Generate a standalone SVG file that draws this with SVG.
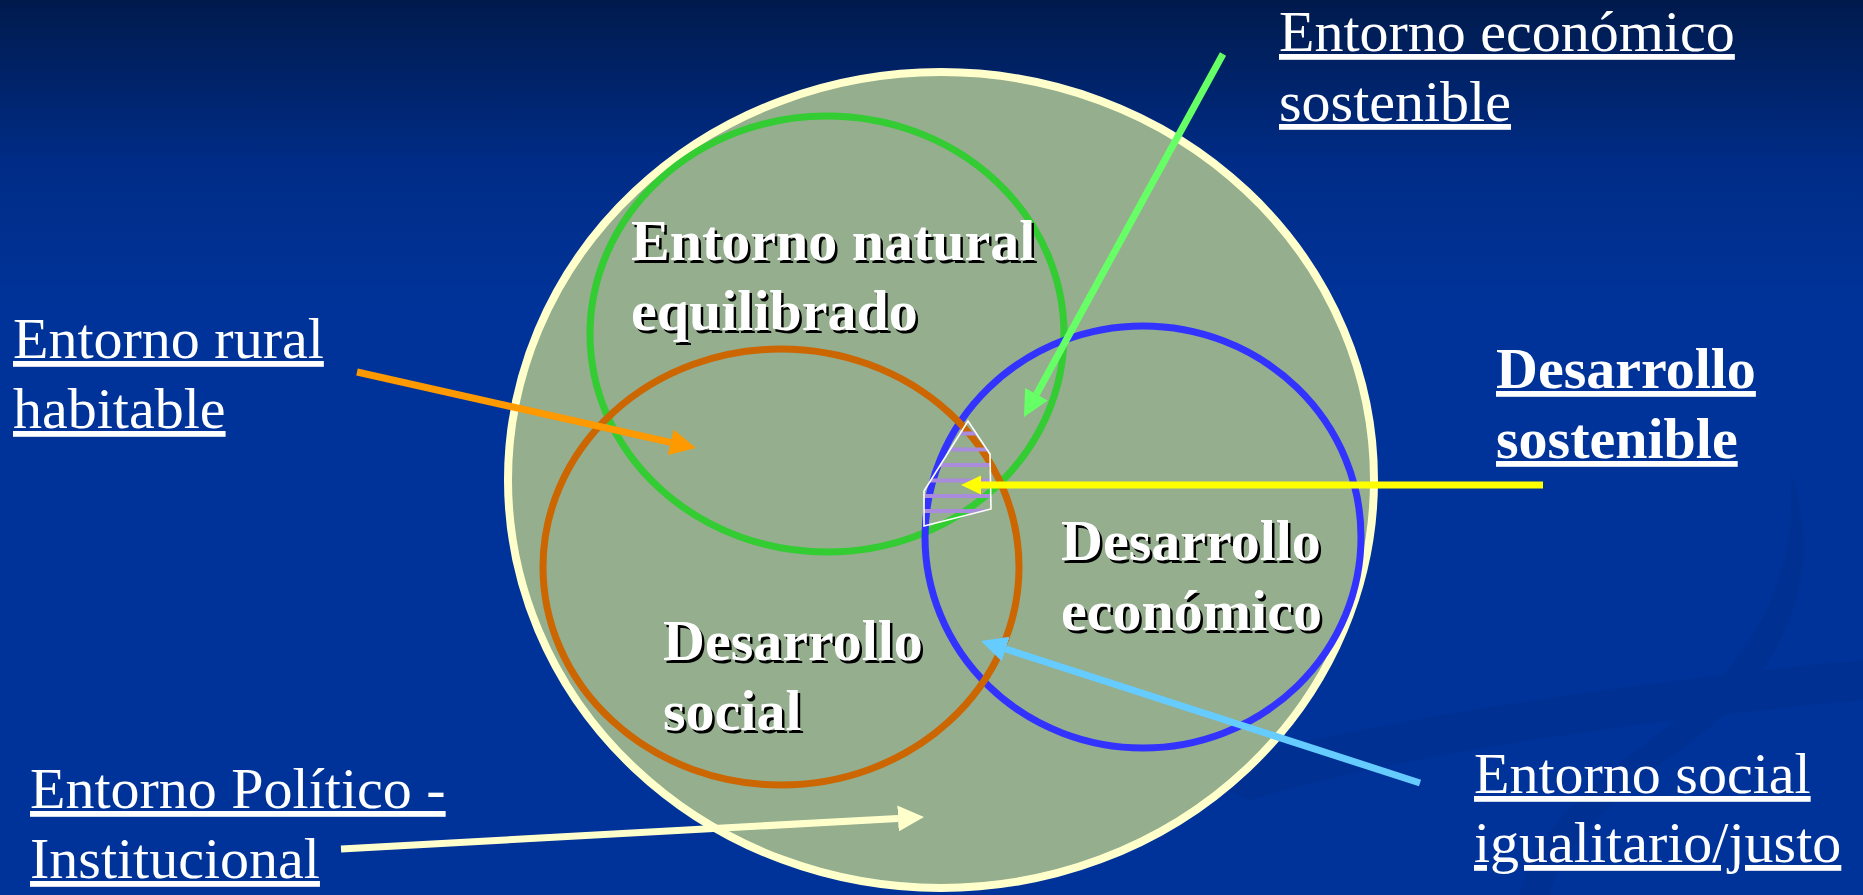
<svg xmlns="http://www.w3.org/2000/svg" width="1863" height="895" viewBox="0 0 1863 895">
<style>
.lbl{font-family:"Liberation Serif","Times New Roman",serif;font-size:58px;fill:#ffffff;text-decoration:underline;}
.b{font-weight:bold;}
.in{font-family:"Liberation Serif","Times New Roman",serif;font-size:58px;font-weight:bold;}
.sh{fill:#000000;}
.fg{fill:#ffffff;}
.ring{fill:none;stroke-width:7;}
.arr{fill:none;stroke-width:7;}
</style>
<defs>
<linearGradient id="bg" x1="0" y1="0" x2="0" y2="1">
<stop offset="0" stop-color="#001a4c"/>
<stop offset="0.18" stop-color="#002c86"/>
<stop offset="0.34" stop-color="#003399"/>
<stop offset="1" stop-color="#003399"/>
</linearGradient>
<clipPath id="lens"><polygon points="968,421 990,454 991,509 924,526 924,491"/></clipPath>
<marker id="hGreen" markerUnits="userSpaceOnUse" markerWidth="27" markerHeight="27" refX="0" refY="13" orient="auto" viewBox="0 0 27 26"><path d="M0,0 L26,13 L0,26 z" fill="#66ff66"/></marker>
<marker id="hOrange" markerUnits="userSpaceOnUse" markerWidth="27" markerHeight="27" refX="0" refY="13" orient="auto" viewBox="0 0 27 26"><path d="M0,0 L26,13 L0,26 z" fill="#ff9900"/></marker>
<marker id="hCyan" markerUnits="userSpaceOnUse" markerWidth="27" markerHeight="27" refX="0" refY="13" orient="auto" viewBox="0 0 27 26"><path d="M0,0 L26,13 L0,26 z" fill="#66ccff"/></marker>
<marker id="hCream" markerUnits="userSpaceOnUse" markerWidth="27" markerHeight="27" refX="0" refY="13" orient="auto" viewBox="0 0 27 26"><path d="M0,0 L26,13 L0,26 z" fill="#ffffcc"/></marker>
<marker id="hYellow" markerUnits="userSpaceOnUse" markerWidth="21" markerHeight="20" refX="0" refY="9.5" orient="auto" viewBox="0 0 21 19"><path d="M0,0 L20,9.5 L0,19 z" fill="#ffff00"/></marker>
</defs>

<rect x="0" y="0" width="1863" height="895" fill="url(#bg)"/>
<g id="swooshes" opacity="0.25">
<path d="M1180,770 C1400,715 1650,680 1863,660 L1863,700 C1650,720 1420,750 1250,800 Z" fill="#00297c"/>
<path d="M1790,470 C1830,580 1780,680 1680,750 C1610,800 1560,850 1550,895 L1520,895 C1530,840 1580,790 1650,740 C1750,670 1800,580 1790,470 Z" fill="#00297c"/>
</g>

<g id="outer">
<ellipse cx="941" cy="480" rx="433" ry="408" fill="#94ae8e" stroke="#ffffcc" stroke-width="8"/>
</g>
<g id="natural">
<ellipse class="ring" cx="827" cy="334" rx="237" ry="218" stroke="#33cc33"/>
</g>
<g id="economico">
<ellipse class="ring" cx="1143" cy="537" rx="218" ry="211" stroke="#3333ff"/>
</g>
<g id="social">
<ellipse class="ring" cx="781" cy="567" rx="238" ry="218" stroke="#cc6600"/>
</g>
<g id="sostenible-zone">
<g clip-path="url(#lens)" stroke="#aa8cdc" stroke-width="4">
<line x1="900" y1="433.5" x2="1000" y2="433.5"/>
<line x1="900" y1="449.5" x2="1000" y2="449.5"/>
<line x1="900" y1="465" x2="1000" y2="465"/>
<line x1="900" y1="480.5" x2="1000" y2="480.5"/>
<line x1="900" y1="496" x2="1000" y2="496"/>
<line x1="900" y1="511" x2="1000" y2="511"/>
</g>
<polygon points="968,421 990,454 991,509 924,526 924,491" fill="none" stroke="#ffffff" stroke-width="1.6"/>
</g>

<g id="inner-labels">
<g id="lbl-natural">
<text class="in sh" x="633.5" y="262.5">Entorno natural</text>
<text class="in fg" x="631" y="260">Entorno natural</text>
<text class="in sh" x="633.5" y="332.5">equilibrado</text>
<text class="in fg" x="631" y="330">equilibrado</text>
</g>
<g id="lbl-social">
<text class="in sh" x="665.5" y="662.5">Desarrollo</text>
<text class="in fg" x="663" y="660">Desarrollo</text>
<text class="in sh" x="665.5" y="732.5">social</text>
<text class="in fg" x="663" y="730">social</text>
</g>
<g id="lbl-economico">
<text class="in sh" x="1063.5" y="562.5">Desarrollo</text>
<text class="in fg" x="1061" y="560">Desarrollo</text>
<text class="in sh" x="1063.5" y="632.5">económico</text>
<text class="in fg" x="1061" y="630">económico</text>
</g>
</g>

<g id="connectors">
<line class="arr" x1="1223" y1="54" x2="1036.5" y2="394.2" stroke="#66ff66" marker-end="url(#hGreen)"/>
<line class="arr" x1="357" y1="372" x2="670.6" y2="442.3" stroke="#ff9900" marker-end="url(#hOrange)"/>
<line class="arr" x1="1543" y1="485" x2="981" y2="485" stroke="#ffff00" stroke-width="6" marker-end="url(#hYellow)"/>
<line class="arr" x1="1420" y1="783" x2="1005.7" y2="649" stroke="#66ccff" marker-end="url(#hCyan)"/>
<line class="arr" x1="341" y1="849" x2="898" y2="818.4" stroke="#ffffcc" marker-end="url(#hCream)"/>
</g>

<g id="lbl-eco-sost">
<text class="lbl" x="1279" y="51">Entorno económico</text>
<text class="lbl" x="1279" y="121">sostenible</text>
</g>
<g id="lbl-rural">
<text class="lbl" x="13" y="358">Entorno rural</text>
<text class="lbl" x="13" y="428">habitable</text>
</g>
<g id="lbl-dessost">
<text class="lbl b" x="1496" y="388">Desarrollo</text>
<text class="lbl b" x="1496" y="458">sostenible</text>
</g>
<g id="lbl-socigual">
<text class="lbl" x="1474" y="793">Entorno social</text>
<text class="lbl" x="1474" y="862">igualitario/justo</text>
</g>
<g id="lbl-politico">
<text class="lbl" x="30" y="808">Entorno Político -</text>
<text class="lbl" x="30" y="878">Institucional</text>
</g>
</svg>
